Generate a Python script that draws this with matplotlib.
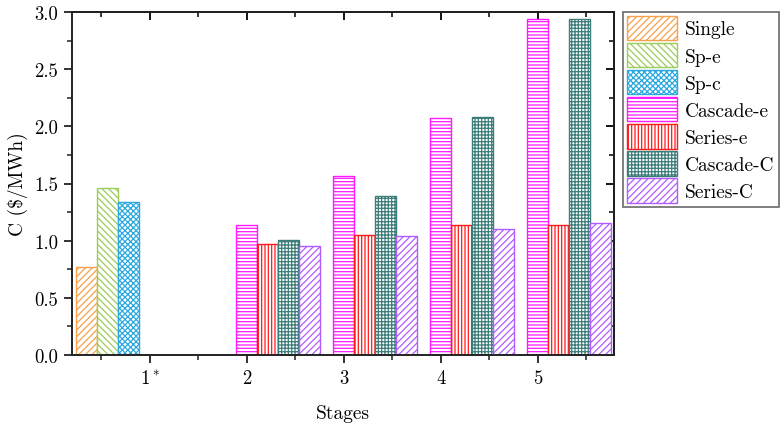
import numpy as np
import matplotlib
matplotlib.use('Agg')
import matplotlib.pyplot as plt
from matplotlib.ticker import MultipleLocator, FixedLocator

plt.rcParams['font.family'] = 'cmr10'
plt.rcParams['mathtext.fontset'] = 'cm'
plt.rcParams['axes.formatter.use_mathtext'] = True
plt.rcParams['hatch.linewidth'] = 0.9

# data (nan = no bar for that stage)
stages = [1, 2, 3, 4, 5]
stage_labels = ['$1^*$', '2', '3', '4', '5']
series_names = ['Single', 'Sp-e', 'Sp-c', 'Cascade-e', 'Series-e', 'Cascade-C', 'Series-C']
single = [0.767, np.nan, np.nan, np.nan, np.nan]
sp_e = [1.464, np.nan, np.nan, np.nan, np.nan]
sp_c = [1.339, np.nan, np.nan, np.nan, np.nan]
cascade_e = [np.nan, 1.135, 1.566, 2.073, 2.943]
series_e = [np.nan, 0.968, 1.053, 1.137, 1.137]
cascade_c = [np.nan, 1.006, 1.388, 2.080, 2.943]
series_c = [np.nan, 0.954, 1.038, 1.102, 1.152]
all_series = [single, sp_e, sp_c, cascade_e, series_e, cascade_c, series_c]

colors = ['#f7a14a', '#9ccc5a', '#2aa8e0', '#ff1aff', '#ff1a1a', '#3c7d7a', '#b25cff']
hatches = ['/////', '\\\\\\\\\\', 'xxxxxx', '-----', '|||||', '+++++', '/////']

fig = plt.figure(figsize=(7.81, 4.27), dpi=100)
ax = fig.add_axes([72 / 781, 1 - 356 / 427, (614 - 72) / 781, (356 - 13) / 427])

w = 0.2165
x = np.array(stages, dtype=float)
for i, (vals, name) in enumerate(zip(all_series, series_names)):
    ax.bar(x + (i - 3) * w, vals, width=w, facecolor='white',
           edgecolor=colors[i], hatch=hatches[i], linewidth=1.0, label=name)

ax.set_xlim(0.2, 5.785)
ax.set_ylim(0, 3.0)
ax.set_xticks(stages)
ax.set_xticklabels(stage_labels, fontsize=13.5)
ax.xaxis.set_minor_locator(FixedLocator([0.5, 1.5, 2.5, 3.5, 4.5, 5.5]))
ax.yaxis.set_major_locator(MultipleLocator(0.5))
ax.yaxis.set_minor_locator(MultipleLocator(0.25))
ax.yaxis.set_major_formatter(matplotlib.ticker.FormatStrFormatter('%.1f'))
for lab in ax.get_yticklabels():
    lab.set_fontsize(13.5)
ax.tick_params(which='major', direction='out', length=6, width=1.3, colors='#222222', pad=4)
ax.tick_params(which='minor', direction='out', length=3.5, width=1.1, colors='#222222')
ax.tick_params(axis='both', labelcolor='black')
for s in ax.spines.values():
    s.set_linewidth(1.4)
    s.set_color('#222222')

# top and right ticks pointing inward
top = ax.secondary_xaxis('top')
top.set_xticks(stages)
top.xaxis.set_minor_locator(FixedLocator([0.5, 1.5, 2.5, 3.5, 4.5, 5.5]))
top.tick_params(which='major', direction='in', length=6, width=1.3, labeltop=False)
top.tick_params(which='minor', direction='in', length=3.5, width=1.1)
top.spines['top'].set_linewidth(1.4)
right = ax.secondary_yaxis('right')
right.yaxis.set_major_locator(MultipleLocator(0.5))
right.yaxis.set_minor_locator(MultipleLocator(0.25))
right.tick_params(which='major', direction='in', length=6, width=1.3, labelright=False)
right.tick_params(which='minor', direction='in', length=3.5, width=1.1)
right.spines['right'].set_linewidth(1.4)

ax.set_xlabel('Stages', fontsize=14, labelpad=12)
ax.set_ylabel('C ($/MWh)', fontsize=14)
ax.yaxis.set_label_coords(-0.081, 0.5)

leg = fig.legend(loc='upper left', bbox_to_anchor=(623 / 781, 1 - 13 / 427),
                 fontsize=14, handlelength=2.6, handleheight=1.55,
                 labelspacing=0.14, handletextpad=0.4, borderpad=0.2,
                 borderaxespad=0, fancybox=False, frameon=True)
leg.get_frame().set_edgecolor('#444444')
leg.get_frame().set_linewidth(1.2)

fig.savefig('out.png', dpi=100)
